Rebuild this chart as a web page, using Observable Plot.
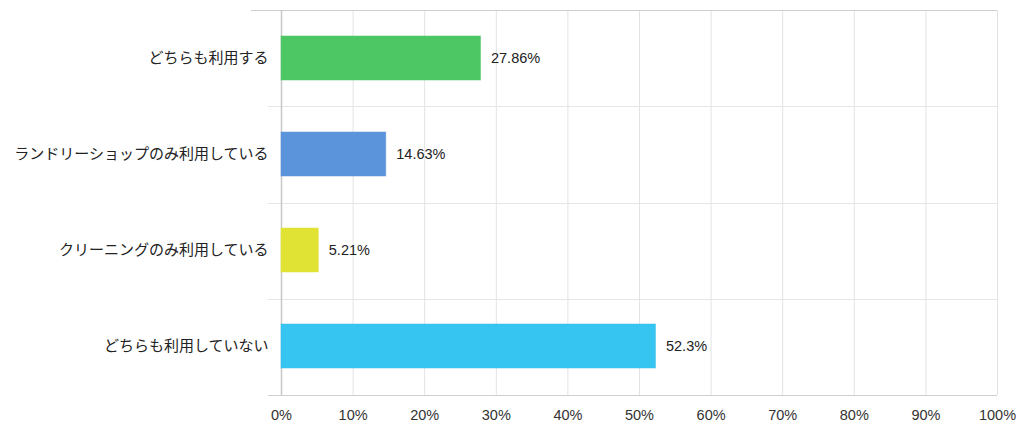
<!DOCTYPE html>
<html>
<head>
<meta charset="utf-8">
<script src="https://cdn.jsdelivr.net/npm/d3@7"></script>
<script src="https://cdn.jsdelivr.net/npm/@observablehq/plot@0.6"></script>
<style>
  html, body { margin: 0; padding: 0; background: #fff; }
  #chart svg { display: block; }
</style>
</head>
<body>
<div id="chart"></div>
<script>
const categories = ["どちらも利用する", "ランドリーショップのみ利用している", "クリーニングのみ利用している", "どちらも利用していない"];
const values = [27.86, 14.63, 5.21, 52.3];
const valueLabels = ["27.86%", "14.63%", "5.21%", "52.3%"];
const colors = ["#4cc764", "#5b94db", "#e0e333", "#36c4f0"];
const xTicks = [0, 10, 20, 30, 40, 50, 60, 70, 80, 90, 100];
const xTickLabels = ["0%", "10%", "20%", "30%", "40%", "50%", "60%", "70%", "80%", "90%", "100%"];

const data = categories.map((c, i) => ({category: c, value: values[i], label: valueLabels[i], color: colors[i]}));

const fontFamily = "'Liberation Sans', Arial, 'Noto Sans CJK JP', sans-serif";

// Horizontal band-boundary lines, computed from the plot's frame
function bandLines(index, scales, vals, dims) {
  const top = dims.marginTop;
  const bottom = dims.height - dims.marginBottom;
  const left = dims.marginLeft;
  const right = dims.width - dims.marginRight;
  const n = categories.length;
  const g = d3.create("svg:g");
  for (let i = 0; i <= n; i++) {
    const y = Math.round(top + i * (bottom - top) / n) + 0.5;
    const edge = i === 0 || i === n;
    g.append("line")
      .attr("x1", i === 0 ? left - 30 : left - 13)
      .attr("x2", right)
      .attr("y1", y).attr("y2", y)
      .attr("stroke", edge ? "#cfcfcf" : "#e6e6e6")
      .attr("stroke-width", 1);
  }
  return g.node();
}

const chart = Plot.plot({
  width: 1024,
  height: 429,
  marginTop: 10,
  marginBottom: 34,
  marginLeft: 281,
  marginRight: 27,
  style: {fontFamily, fontSize: "14px", color: "#333", background: "#fff"},
  x: {domain: [0, 100], label: null},
  y: {domain: categories, label: null, paddingInner: 0.54, paddingOuter: 0.27},
  marks: [
    Plot.ruleX(xTicks, {stroke: "#e3e3e3", strokeWidth: 1}),
    bandLines,
    Plot.ruleX([0], {stroke: "#c8c8c8", strokeWidth: 1.5}),
    Plot.barX(data, {x: "value", y: "category", fill: "color", stroke: "color", strokeOpacity: 0.5}),
    Plot.text(data, {x: "value", y: "category", text: "label", textAnchor: "start", dx: 10, fill: "#222", fontSize: 14.5}),
    Plot.axisX(xTicks, {tickSize: 0, tickPadding: 14, tickFormat: (d, i) => xTickLabels[i], fontSize: 14.5, fill: "#333"}),
    Plot.axisY(categories, {tickSize: 0, tickPadding: 13, fontSize: 15, fill: "#222"})
  ]
});

document.getElementById("chart").appendChild(chart);
</script>
</body>
</html>
